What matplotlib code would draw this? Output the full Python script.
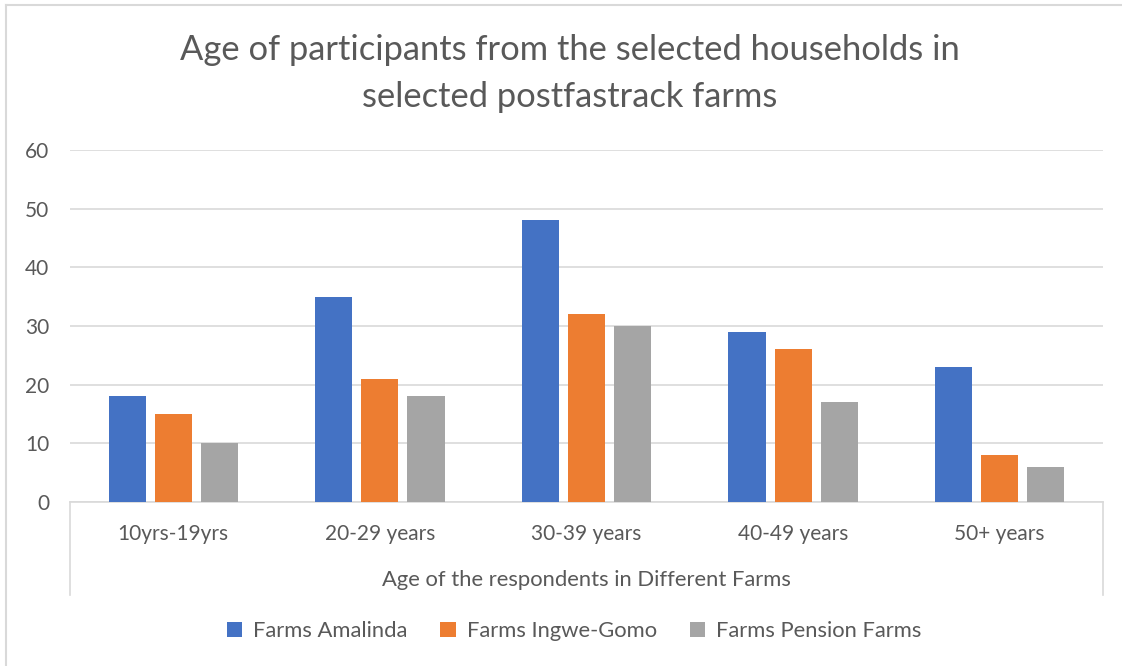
import matplotlib
matplotlib.use("Agg")
import matplotlib.pyplot as plt
import numpy as np
from matplotlib.lines import Line2D

categories = ["10yrs-19yrs", "20-29 years", "30-39 years", "40-49 years", "50+ years"]
series_names = ["Farms Amalinda", "Farms Ingwe-Gomo", "Farms Pension Farms"]
amalinda = [18, 35, 48, 29, 23]
ingwe_gomo = [15, 21, 32, 26, 8]
pension = [10, 18, 30, 17, 6]
yticks = [0, 10, 20, 30, 40, 50, 60]

colors = ["#4472C4", "#ED7D31", "#A5A5A5"]
text_color = "#595959"
grid_color = "#D9D9D9"

plt.rcParams['font.family'] = ['Lato', 'DejaVu Sans']

W, H = 1122, 666
fig = plt.figure(figsize=(W / 100, H / 100), dpi=100)

def fx(px):
    return px / W

def fy(py):
    return 1 - py / H

left, right, top, bottom = 70, 1103, 150, 502
ax = fig.add_axes([fx(left), fy(bottom), fx(right - left), (bottom - top) / H])

x = np.arange(len(categories))
bw = 0.18
offs = [-0.223, 0, 0.223]
for vals, name, c, o in zip([amalinda, ingwe_gomo, pension], series_names, colors, offs):
    ax.bar(x + o, vals, width=bw, color=c, label=name, zorder=3)

ax.set_xlim(-0.5, len(categories) - 0.5)
ax.set_ylim(0, 60)
ax.set_yticks(yticks)
ax.set_yticklabels([str(v) for v in yticks], fontsize=15, color=text_color)
ax.set_xticks(x)
ax.set_xticklabels(categories, fontsize=15, color=text_color)
ax.tick_params(axis='both', length=0)
ax.tick_params(axis='y', pad=15)
ax.tick_params(axis='x', pad=15.5)
ax.yaxis.grid(True, color=grid_color, linewidth=1.2, zorder=0)
for s in ['left', 'right', 'top']:
    ax.spines[s].set_visible(False)
ax.spines['bottom'].set_color(grid_color)
ax.spines['bottom'].set_linewidth(1.2)
ax.set_axisbelow(True)

# category-axis box lines below the plot
depth = (595 - bottom) / (bottom - top)
for xa in (0, 1):
    ax.add_line(Line2D([xa, xa], [0, -depth], transform=ax.transAxes,
                       color=grid_color, linewidth=1.2, clip_on=False))

ax.set_xlabel("Age of the respondents in Different Farms", fontsize=15.8,
              color=text_color, labelpad=19)

fig.text(0.508, fy(50), "Age of participants from the selected households in",
         ha='center', va='center', fontsize=24.8, color=text_color)
fig.text(0.508, fy(97), "selected postfastrack farms",
         ha='center', va='center', fontsize=24.8, color=text_color)

handles, labels = ax.get_legend_handles_labels()
fig.legend(handles, labels, loc='center', bbox_to_anchor=(fx(574), fy(631)),
           ncol=3, frameon=False, fontsize=15.8, labelcolor=text_color,
           handlelength=0.7, handleheight=0.7, columnspacing=1.5, handletextpad=0.5)

# outer chart border (top and left visible)
fig.add_artist(Line2D([fx(6), fx(6)], [fy(5), -0.1], color=grid_color, linewidth=1.5))
fig.add_artist(Line2D([fx(6), 1.1], [fy(5), fy(5)], color=grid_color, linewidth=1.5))

fig.savefig("out.png", dpi=100)
